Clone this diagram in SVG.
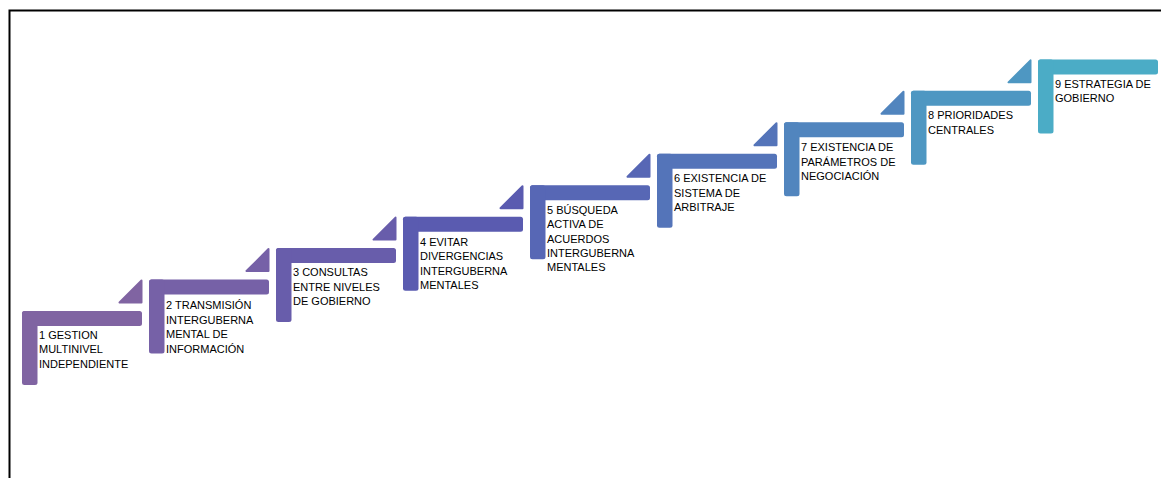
<svg xmlns="http://www.w3.org/2000/svg" xmlns:xlink="http://www.w3.org/1999/xlink" width="1161" height="478" viewBox="0 0 1161 478">
<style>
  .lbl { font-family: "Liberation Sans", Arial, sans-serif; font-size: 11px; fill: #000; }
  .c1 { fill: #8064A2; } .c2 { fill: #7661A7; } .c3 { fill: #685DAB; }
  .c4 { fill: #5A5BB0; } .c5 { fill: #5767B5; } .c6 { fill: #5474B9; }
  .c7 { fill: #5185BE; } .c8 { fill: #4E97C2; } .c9 { fill: #4BACC6; }
  .s1 { stroke: #8064A2; } .s2 { stroke: #7661A7; } .s3 { stroke: #685DAB; }
  .s4 { stroke: #5A5BB0; } .s5 { stroke: #5767B5; } .s6 { stroke: #5474B9; }
  .s7 { stroke: #5185BE; } .s8 { stroke: #4E97C2; }
  .tri { stroke-width: 2; stroke-linejoin: round; }
</style>
<defs>
  <g id="step">
    <rect x="0" y="0" width="120" height="15" rx="2.5"/>
    <rect x="0" y="0" width="15.5" height="74" rx="2.5"/>
  </g>
  <path id="arrow" d="M97.5,-8.5 H119.5 V-30.5 Z"/>
</defs>
<path d="M9.5,478 V10.5 H1161" fill="none" stroke="#000" stroke-width="2"/>

<g id="connectors">
  <use xlink:href="#arrow" class="c1 s1 tri" transform="translate(22,311)"/>
  <use xlink:href="#arrow" class="c2 s2 tri" transform="translate(149,279.55)"/>
  <use xlink:href="#arrow" class="c3 s3 tri" transform="translate(276,248.1)"/>
  <use xlink:href="#arrow" class="c4 s4 tri" transform="translate(403,216.65)"/>
  <use xlink:href="#arrow" class="c5 s5 tri" transform="translate(530,185.2)"/>
  <use xlink:href="#arrow" class="c6 s6 tri" transform="translate(657,153.75)"/>
  <use xlink:href="#arrow" class="c7 s7 tri" transform="translate(784,122.3)"/>
  <use xlink:href="#arrow" class="c8 s8 tri" transform="translate(911,90.85)"/>
</g>

<g id="step1" transform="translate(22,311)">
  <use xlink:href="#step" class="c1"/>
  <text class="lbl" x="17" y="27.5">1 GESTION<tspan x="17" dy="14.7">MULTINIVEL</tspan><tspan x="17" dy="14.7">INDEPENDIENTE</tspan></text>
</g>
<g id="step2" transform="translate(149,279.55)">
  <use xlink:href="#step" class="c2"/>
  <text class="lbl" x="17" y="29.5">2 TRANSMISIÓN<tspan x="17" dy="14.6">INTERGUBERNA</tspan><tspan x="17" dy="14.6">MENTAL DE</tspan><tspan x="17" dy="14.6">INFORMACIÓN</tspan></text>
</g>
<g id="step3" transform="translate(276,248.1)">
  <use xlink:href="#step" class="c3"/>
  <text class="lbl" x="17" y="28">3 CONSULTAS<tspan x="17" dy="14.6">ENTRE NIVELES</tspan><tspan x="17" dy="14.6">DE GOBIERNO</tspan></text>
</g>
<g id="step4" transform="translate(403,216.65)">
  <use xlink:href="#step" class="c4"/>
  <text class="lbl" x="17" y="29.3">4 EVITAR<tspan x="17" dy="14.5">DIVERGENCIAS</tspan><tspan x="17" dy="14.5">INTERGUBERNA</tspan><tspan x="17" dy="14.5">MENTALES</tspan></text>
</g>
<g id="step5" transform="translate(530,185.2)">
  <use xlink:href="#step" class="c5"/>
  <text class="lbl" x="17" y="29">5 BÚSQUEDA<tspan x="17" dy="14.3">ACTIVA DE</tspan><tspan x="17" dy="14.3">ACUERDOS</tspan><tspan x="17" dy="14.3">INTERGUBERNA</tspan><tspan x="17" dy="14.3">MENTALES</tspan></text>
</g>
<g id="step6" transform="translate(657,153.75)">
  <use xlink:href="#step" class="c6"/>
  <text class="lbl" x="17" y="28.5">6 EXISTENCIA DE<tspan x="17" dy="14.6">SISTEMA DE</tspan><tspan x="17" dy="14.6">ARBITRAJE</tspan></text>
</g>
<g id="step7" transform="translate(784,122.3)">
  <use xlink:href="#step" class="c7"/>
  <text class="lbl" x="17" y="29">7 EXISTENCIA DE<tspan x="17" dy="14.5">PARÁMETROS DE</tspan><tspan x="17" dy="14.5">NEGOCIACIÓN</tspan></text>
</g>
<g id="step8" transform="translate(911,90.85)">
  <use xlink:href="#step" class="c8"/>
  <text class="lbl" x="17" y="28.5">8 PRIORIDADES<tspan x="17" dy="14.8">CENTRALES</tspan></text>
</g>
<g id="step9" transform="translate(1038,59.4)">
  <use xlink:href="#step" class="c9"/>
  <text class="lbl" x="17" y="29">9 ESTRATEGIA DE<tspan x="17" dy="13.8">GOBIERNO</tspan></text>
</g>
</svg>
